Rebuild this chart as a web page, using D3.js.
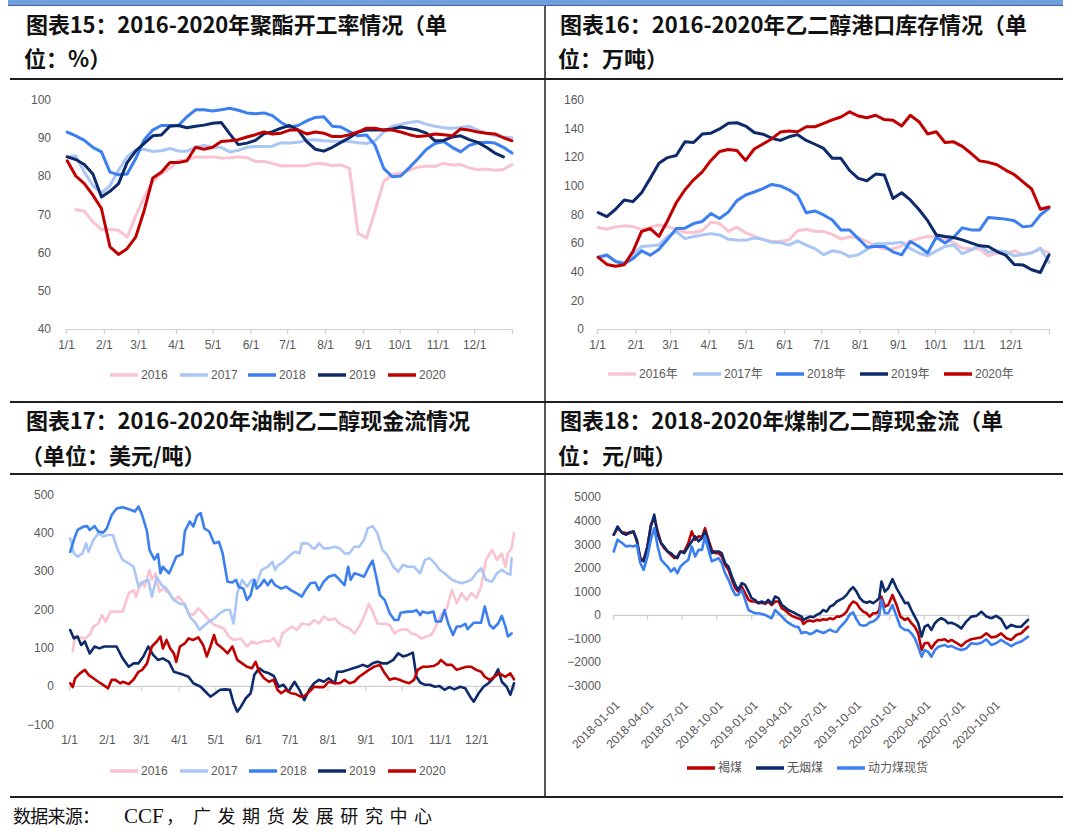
<!DOCTYPE html>
<html><head><meta charset="utf-8">
<script src="https://cdn.jsdelivr.net/npm/d3@7"></script>
<style>body{margin:0;background:#fff}svg{display:block}</style>
</head><body>
<svg id="c" width="1080" height="840"></svg>
<script>
// ---------------- DATA ----------------
const monthLabels = ["1/1","2/1","3/1","4/1","5/1","6/1","7/1","8/1","9/1","10/1","11/1","12/1"];
const monthStartDays = [0,31,59,90,120,151,181,212,243,273,304,334];
const yearNames = ["2016","2017","2018","2019","2020"];
const yearNamesCN = ["2016年","2017年","2018年","2019年","2020年"];
const weekDays = [1,8,15,22,29,36,43,50,57,64,71,78,85,92,99,106,113,120,127,134,141,148,155,162,169,176,183,190,197,204,211,218,225,232,239,246,253,260,267,274,281,288,295,302,309,316,323,330,337,344,351,358,365];

// Chart 15: polyester operating rate (%)
const polyRate2016 = [null,71.2,70.8,68,66,66,65.8,64,69.5,74.5,78.5,80.6,82,84,84.2,85,84.9,85,84.7,84.8,85,84.8,83.8,83.8,83.3,82.6,82.7,82.7,82.7,83.3,83.2,82.7,82.9,82,65,63.8,71,78.5,80.4,80.7,81.5,82.3,82.6,82.5,83.3,82.9,83,82.1,81.6,81.8,81.5,81.7,83];
const polyRate2017 = [85,85.3,81,77.5,75.5,77.5,81.5,85,86.8,87,86.4,86.6,87.2,86.5,86.5,87.5,88,87.5,87.5,86.3,86.7,87.5,87.7,87.7,87.8,88.7,88.6,88.8,89.4,89.5,89.2,89.1,89.1,89,88.7,88.5,89.2,91.5,93,93.5,94,94.3,93.5,93,92.6,92.5,92.7,93,92,91.2,90.6,90.2,90];
const polyRate2018 = [91.5,90.5,89.3,87.5,86.3,81,80.3,80.5,84.5,89.5,92,93.2,93.2,93.2,95.5,97.3,97.3,97,97.3,97.7,97.2,96.5,96.3,96.5,95.8,94,92.8,93.2,94.4,95.3,95.5,93,92.8,91.6,90.5,90.7,88,82,79.8,80,82.2,84.5,87,88.5,89,87.5,86.3,88,88.7,88.8,88.6,87.5,86];
const polyRate2019 = [85,84.3,83,80.5,74.5,76,78,83.5,86.5,88.5,90.5,90.7,93,93.2,92.6,93,93.3,93.8,94,91,88.2,88.6,89.3,91,91.6,92.5,93.2,92,89,87,86.5,87.5,88.8,90,91.5,92,92,92,92.3,92.8,92.4,92,91.2,89.2,89.3,90.2,90.5,89.5,88.8,87.5,86,85];
const polyRate2020 = [84,80,78,75,71.5,61.5,59.5,61,64,71,79.5,81,83.5,83.5,84,87.5,87,87.5,89,89.2,89.5,90.2,90.8,91.5,91,91.2,92,92,91,91.5,91.2,90.3,90.3,90.8,91.5,92.5,92.5,92,92,91.5,90.8,90.3,90.5,91,90.8,90.5,92.3,92,91.5,91.2,91,90,89.2];

// Chart 16: MEG port inventory (10k t)
const portInv2016 = [70.7,69.5,71.2,71.9,71.5,69.3,71,72.5,71.5,69.5,67.5,67.2,68.5,74.5,73.5,68,71,67.2,64.5,62.5,61,61,62,68.5,69.5,68,67.9,66,62.8,64.2,63.8,61,58,55.7,55.8,58,61.3,63.2,64.5,64.4,63,60.3,56.5,56,55.7,51,52.8,52.5,54.5,52,53.3,55.5,53];
const portInv2017 = [50,51,47.5,46,52,57.5,58,58.5,64.5,68,63,64.5,65.6,66.5,65.6,62.5,62,61.8,63.5,62.5,60.5,60.3,58.5,61.5,58.5,56,51.8,54.5,53.5,50.5,51.8,55.5,59.5,59.4,59.8,60.5,56,53,51,54.5,57.5,58.6,52.5,55,58.5,53.5,54.5,54,51,52,53,56.5,46.5];
const portInv2018 = [50,51.7,47,45.5,49,54.5,51.5,55.5,62.5,70,70.3,73.5,75,80.5,77,81.5,89.5,93.4,95.5,97.8,100.8,99.7,97,93,81,82.3,79.5,76,69,69,63,57,57.5,57.5,53.8,51.7,61,57.5,53,64,60,64,70.5,69.1,69,77.8,77.2,76.6,75.5,71.2,71.9,79.5,84.2];
const portInv2019 = [81.2,78.4,83.5,90,88.8,95,105,115.5,119.5,121,130.5,130,135.9,136.5,139.5,143.5,143.8,141.5,137,135.8,133,131.5,134,135.5,131.5,128.8,125.9,119,119,110.5,105,103.4,108,107.4,91,95,90,83.3,75.5,65.6,64.5,63.8,62.1,60,58,57.5,54,51.5,45,44.7,41.3,39.4,51.7];
const portInv2020 = [50,45,43.7,44.8,54,68,70,64.5,75.5,88,97,104,109.5,117.5,123.8,125.2,124.5,117.5,125.5,129,132.5,137.3,138,137.5,141,141,143.3,145.8,147.8,151.4,148.5,147.3,149,146,145.6,141.5,149,144.5,136,137.5,130,130.5,127.3,122.5,117.2,116.2,114.5,110.8,107.6,102.5,97.6,83.5,85];

// Chart 17: oil-based MEG cash flow (USD/t), [day of year, value]
const oilCF2016 = [[3,90],[5,129],[9,127],[13,124],[17,133],[20,155],[24,163],[27,185],[30,168],[34,194],[39,194],[44,194],[49,242],[53,250],[55,233],[59,270],[62,259],[66,303],[68,277],[71,294],[74,246],[77,254],[82,242],[86,224],[90,233],[94,216],[98,190],[102,185],[106,203],[110,190],[115,172],[119,159],[123,155],[127,150],[131,129],[135,120],[141,124],[146,103],[150,116],[154,111],[160,118],[164,116],[168,124],[172,103],[175,137],[179,146],[183,155],[187,146],[191,163],[197,159],[201,172],[205,163],[209,181],[213,172],[218,176],[222,163],[226,155],[230,150],[234,137],[238,155],[242,181],[246,214],[249,194],[253,163],[259,162],[263,159],[267,137],[271,146],[277,148],[281,137],[285,133],[289,124],[293,129],[297,133],[301,155],[305,185],[310,203],[314,250],[318,216],[322,242],[326,224],[330,242],[334,229],[338,259],[342,329],[347,355],[351,329],[355,346],[358,311],[360,346],[363,359],[365,398]];
const oilCF2017 = [[1,385],[4,346],[7,337],[11,346],[14,372],[16,350],[20,381],[24,398],[28,390],[32,394],[36,394],[40,355],[44,329],[49,320],[53,311],[57,259],[61,272],[65,277],[68,233],[72,285],[76,263],[80,254],[86,224],[91,214],[95,214],[99,181],[104,163],[107,146],[110,155],[115,168],[119,176],[124,190],[128,198],[132,198],[135,163],[138,242],[142,277],[146,259],[150,277],[154,268],[158,303],[163,311],[167,324],[169,303],[172,316],[176,324],[180,337],[185,350],[189,346],[191,372],[196,372],[200,359],[202,359],[205,372],[209,359],[213,359],[218,363],[222,359],[226,346],[230,346],[234,363],[238,363],[242,381],[245,411],[249,417],[253,398],[257,355],[261,342],[266,311],[270,298],[274,316],[278,311],[283,311],[288,294],[292,329],[296,333],[300,320],[304,303],[308,294],[314,277],[318,272],[322,268],[326,272],[330,277],[334,294],[338,307],[342,277],[347,272],[351,294],[355,303],[359,294],[362,290],[363,333]];
const oilCF2018 = [[1,350],[4,381],[7,407],[12,416],[15,417],[17,407],[21,417],[24,403],[28,400],[31,411],[35,446],[39,463],[44,466],[51,459],[54,455],[57,468],[60,446],[64,403],[66,355],[70,330],[73,344],[75,294],[77,311],[82,294],[84,307],[88,337],[93,344],[95,403],[99,429],[102,416],[105,444],[108,451],[111,411],[115,403],[119,372],[123,376],[126,346],[130,272],[134,270],[137,277],[139,259],[143,254],[146,224],[149,237],[152,277],[154,254],[157,263],[160,277],[163,263],[166,277],[169,263],[174,254],[178,259],[182,250],[186,243],[191,233],[194,250],[198,268],[202,270],[205,250],[209,272],[213,285],[218,290],[222,277],[226,263],[229,311],[231,277],[234,294],[238,290],[242,285],[246,311],[249,327],[252,285],[255,237],[259,224],[263,190],[267,172],[270,172],[272,191],[278,194],[282,194],[285,198],[288,185],[290,194],[294,190],[299,194],[301,168],[305,168],[308,198],[311,163],[315,133],[318,155],[321,155],[325,162],[327,148],[332,165],[334,165],[338,165],[341,207],[345,159],[348,150],[352,163],[355,183],[358,155],[360,129],[363,137]];
const oilCF2019 = [[1,146],[4,124],[7,129],[10,107],[13,116],[17,85],[21,103],[25,98],[29,103],[34,103],[39,103],[44,72],[49,50],[53,59],[57,59],[61,77],[65,103],[69,81],[73,68],[77,72],[82,63],[86,37],[90,33],[94,29],[98,24],[102,7],[108,-2],[112,-15],[116,-28],[120,-19],[124,-10],[128,-9],[132,-10],[135,-45],[138,-67],[141,-54],[145,-32],[149,-19],[152,29],[156,46],[160,37],[164,33],[168,26],[172,-2],[176,3],[180,-15],[185,11],[189,-10],[193,-37],[197,-10],[201,7],[205,16],[209,11],[213,20],[218,7],[220,37],[224,37],[229,42],[233,46],[237,50],[241,55],[245,50],[249,59],[253,63],[257,59],[261,59],[266,68],[270,85],[274,77],[278,81],[282,87],[285,24],[288,9],[292,3],[296,3],[300,-2],[304,0],[308,-10],[312,-3],[316,-9],[321,-2],[325,-6],[329,-28],[332,-41],[336,-19],[340,-2],[344,7],[348,20],[352,43],[355,11],[359,-2],[362,-23],[365,7]];
const oilCF2020 = [[1,7],[3,-3],[5,20],[9,33],[13,42],[16,29],[20,20],[24,11],[28,3],[32,-6],[35,16],[38,16],[42,7],[44,11],[49,5],[53,17],[57,37],[60,42],[64,59],[68,103],[72,116],[75,129],[77,98],[80,120],[83,98],[86,85],[88,63],[91,103],[95,111],[98,124],[102,120],[106,127],[110,107],[113,77],[116,103],[119,133],[121,111],[126,98],[130,85],[134,103],[138,68],[142,59],[146,50],[150,46],[153,63],[156,37],[160,20],[164,11],[168,16],[171,-10],[174,-19],[178,-10],[182,-19],[186,-21],[190,-28],[193,-26],[197,-15],[201,-2],[205,-3],[209,-3],[213,11],[218,7],[222,7],[226,16],[230,7],[234,11],[238,24],[242,33],[246,42],[250,50],[255,55],[259,33],[263,16],[267,20],[271,16],[275,11],[279,7],[283,16],[286,42],[290,50],[294,50],[299,52],[303,59],[305,68],[310,55],[314,55],[318,42],[322,46],[326,50],[330,50],[334,42],[338,37],[341,24],[345,16],[349,24],[353,33],[358,24],[362,33],[365,17]];

// Chart 18: coal-based MEG cash flow (CNY/t); days since 2018-01-01
const coalTickLabels = ["2018-01-01","2018-04-01","2018-07-01","2018-10-01","2019-01-01","2019-04-01","2019-07-01","2019-10-01","2020-01-01","2020-04-01","2020-07-01","2020-10-01"];
const coalSeriesNames = ["褐煤","无烟煤","动力煤现货"];
const coalDays = [2,12,24,35,44,54,63,72,81,91,100,109,118,127,135,144,153,162,170,178,188,199,208,217,226,235,243,252,261,270,279,287,296,305,314,323,331,340,349,358,366,375,384,393,402,410,419,428,437,446,454,463,472,481,489,498,503,511,520,529,538,547,555,564,573,582,591,599,608,617,626,634,643,652,661,670,678,687,696,703,709,718,727,738,749,759,771,779,788,797,806,815,823,832,841,850,859,867,876,885,894,907,920,933,946,960,973,986,999,1012,1025,1039,1052,1065,1078,1087,1096];
const coalLignite = [3400,3680,3500,3470,3470,3540,3120,2410,2340,2900,3820,4110,3540,3050,2830,2690,2550,2410,2480,2690,2690,3050,3540,3190,3330,3300,3680,3190,2760,2620,2620,2480,2120,1910,1490,1130,990,1200,920,640,570,570,500,520,470,570,420,570,570,280,210,70,-40,-100,-140,-210,-380,-280,-240,-280,-210,-240,-180,-210,-140,-180,-70,-70,0,140,420,570,500,280,140,70,-70,70,70,210,780,350,420,850,420,-70,-210,-140,-350,-500,-780,-1490,-1200,-1180,-1420,-1200,-1060,-1060,-1030,-1130,-1060,-1180,-1320,-1130,-1030,-990,-950,-780,-950,-920,-780,-990,-1060,-850,-780,-640,-500];
const coalAnthracite = [3400,3750,3470,3400,3500,3540,3190,2340,2270,2900,3750,4250,3400,3050,2900,2690,2620,2480,2410,2690,2620,2900,3120,3330,3120,3260,3540,3120,2620,2690,2690,2620,2200,2050,1630,1270,1060,1350,1270,990,710,640,500,570,500,640,470,780,710,420,330,210,140,70,0,-70,-210,-140,-70,-100,0,70,210,140,350,420,570,640,710,850,1060,1180,990,710,570,520,570,500,600,710,1420,990,1130,1520,1130,850,500,520,210,-70,-350,-920,-500,-420,-640,-350,-210,-140,-210,-350,-330,-420,-570,-280,-70,-40,140,-70,-140,-40,-180,-570,-420,-500,-500,-350,-210];
const coalSteam = [2690,3190,3050,2900,2930,2900,2970,2200,1910,2480,3190,3680,2900,2340,2200,2050,1840,1980,1770,2050,2200,2340,2900,2480,2760,2760,3330,2760,2270,2340,2410,2200,1770,1490,1130,850,850,1060,640,210,140,70,70,40,0,-70,-140,210,70,-70,-210,-330,-420,-500,-500,-780,-740,-740,-815,-760,-655,-710,-765,-700,-625,-700,-710,-530,-385,-210,35,105,-175,-420,-460,-425,-315,-280,-175,-30,640,70,70,420,-70,-500,-640,-640,-780,-990,-1350,-1770,-1490,-1560,-1770,-1490,-1350,-1320,-1270,-1350,-1320,-1420,-1490,-1420,-1200,-1230,-1180,-1030,-1270,-1200,-1060,-1200,-1320,-1200,-1130,-1030,-920];

// ---------------- STYLE ----------------
const yearColors = ["#f9c3cf","#a9c6f4","#3b7ff0","#0d2b6b","#c00000"];
const coalColors = ["#c00000","#0d2b6b","#3b7ff0"];
const TXT = "'Liberation Sans','Noto Sans CJK SC',sans-serif";
const CJK = "'Noto Sans CJK SC',sans-serif";
const GRAY = "#595959";
const AXC = "#d0d0d0";

const svg = d3.select("#c");

// frame
svg.append("rect").attr("x",8).attr("y",0).attr("width",1055).attr("height",4.5).attr("fill","#6f9fdc");
svg.append("line").attr("x1",8).attr("x2",1063).attr("y1",5.2).attr("y2",5.2).attr("stroke","#3c66ad").attr("stroke-width",1.5);
[79,402,474,797].forEach(yy=>{
  svg.append("line").attr("x1",10).attr("x2",1063).attr("y1",yy).attr("y2",yy).attr("stroke","#1e1e1e").attr("stroke-width",2);
});
svg.append("line").attr("x1",545).attr("x2",545).attr("y1",6).attr("y2",797).attr("stroke","#1e1e1e").attr("stroke-width",1.5);

// titles
function title(x, y, str, len){
  const t = svg.append("text").attr("x",x).attr("y",y).attr("font-family",CJK).attr("font-weight",700)
    .attr("font-size",22).attr("fill","#111").text(str);
  if(len) t.attr("textLength",len).attr("lengthAdjust","spacing");
}
title(26,33,"图表15：2016-2020年聚酯开工率情况（单",421);
title(24,67,"位：%）");
title(560,33,"图表16：2016-2020年乙二醇港口库存情况（单",467);
title(558,67,"位：万吨）");
title(26,429,"图表17：2016-2020年油制乙二醇现金流情况",444);
title(21,464,"（单位：美元/吨）");
title(560,429,"图表18：2018-2020年煤制乙二醇现金流（单",443);
title(558,464,"位：元/吨）");

// source note
{
  const src = svg.append("g").attr("fill","#111");
  src.append("text").attr("x",13).attr("y",823).attr("font-family",CJK).attr("font-size",18)
    .attr("textLength",87).attr("lengthAdjust","spacing").text("数据来源：");
  src.append("text").attr("x",124).attr("y",823).attr("font-family","'Liberation Serif',serif").attr("font-size",21)
    .text("CCF");
  src.append("text").attr("x",166).attr("y",823).attr("font-family",CJK).attr("font-size",18).text("，");
  src.append("text").attr("x",193).attr("y",823).attr("font-family",CJK).attr("font-size",18)
    .attr("textLength",239).attr("lengthAdjust","spacing").text("广发期货发展研究中心");
}

// helpers
function yAxis(scale, ticks, xRight){
  const g = svg.append("g").attr("transform",`translate(${xRight},0)`)
    .call(d3.axisLeft(scale).tickValues(ticks).tickSize(0).tickPadding(0).tickFormat(d3.format("d")));
  g.select(".domain").remove();
  g.selectAll("text").attr("font-family",TXT).attr("font-size",12).attr("fill",GRAY);
}
function monthAxis(scale, yPos, pad){
  const vals = monthStartDays.concat([365]);
  const g = svg.append("g").attr("transform",`translate(0,${yPos})`)
    .call(d3.axisBottom(scale).tickValues(vals).tickSize(5).tickPadding(pad)
      .tickFormat(d => { const i = monthStartDays.indexOf(d); return i>=0 ? monthLabels[i] : ""; }));
  g.select(".domain").attr("stroke",AXC).attr("stroke-width",1.2);
  g.selectAll(".tick line").attr("stroke",AXC).attr("stroke-width",1.2);
  g.selectAll("text").attr("font-family",TXT).attr("font-size",12).attr("fill",GRAY);
}
function legend(items, colors, xs, yPos){
  items.forEach((name,i)=>{
    svg.append("line").attr("x1",xs[i]).attr("x2",xs[i]+28).attr("y1",yPos).attr("y2",yPos)
      .attr("stroke",colors[i]).attr("stroke-width",3.5);
    svg.append("text").attr("x",xs[i]+31).attr("y",yPos).attr("dy","0.36em")
      .attr("font-family",TXT).attr("font-size",12).attr("fill",GRAY).text(name);
  });
}
function drawLine(data, xs, ys, color, w, xf, yf){
  const line = d3.line().defined(d => yf(d) != null).x(d => xs(xf(d))).y(d => ys(yf(d)));
  svg.append("path").datum(data).attr("d",line).attr("fill","none").attr("stroke",color)
    .attr("stroke-width",w).attr("stroke-linejoin","round").attr("stroke-linecap","round");
}

// ---------- Chart 15 ----------
{
  const x = d3.scaleLinear().domain([0,365]).range([66,512]);
  const y = d3.scaleLinear().domain([40,100]).range([329,99.5]);
  yAxis(y, d3.range(40,101,10), 51);
  monthAxis(x, 329, 6);
  const series = [polyRate2016,polyRate2017,polyRate2018,polyRate2019,polyRate2020];
  series.forEach((s,k)=>{
    const pts = s.map((v,i)=>[weekDays[i],v]);
    drawLine(pts, x, y, yearColors[k], 3, d=>d[0], d=>d[1]);
  });
  legend(yearNames, yearColors, [110,180,248,318,388], 375);
}

// ---------- Chart 16 ----------
{
  const x = d3.scaleLinear().domain([0,365]).range([597,1049]);
  const y = d3.scaleLinear().domain([0,160]).range([329,99.5]);
  yAxis(y, d3.range(0,161,20), 584);
  monthAxis(x, 329, 6);
  const series = [portInv2016,portInv2017,portInv2018,portInv2019,portInv2020];
  series.forEach((s,k)=>{
    const pts = s.map((v,i)=>[weekDays[i],v]);
    drawLine(pts, x, y, yearColors[k], 3, d=>d[0], d=>d[1]);
  });
  legend(yearNamesCN, yearColors, [608,693,776,860,944], 374);
}

// ---------- Chart 17 ----------
{
  const x = d3.scaleLinear().domain([0,365]).range([69,514]);
  const y = d3.scaleLinear().domain([-100,500]).range([724.3,494.3]);
  yAxis(y, d3.range(-100,501,100), 54);
  monthAxis(x, y(0), 45);
  const series = [oilCF2016,oilCF2017,oilCF2018,oilCF2019,oilCF2020];
  series.forEach((s,k)=>{
    drawLine(s, x, y, yearColors[k], 2.6, d=>d[0], d=>d[1]);
  });
  legend(yearNames, yearColors, [110,180,249,318,388], 771);
}

// ---------- Chart 18 ----------
{
  const t0 = new Date(2018,0,1);
  const dayToDate = d => d3.timeDay.offset(t0, d);
  const x = d3.scaleTime().domain([t0, new Date(2021,0,1)]).range([613,1028]);
  const y = d3.scaleLinear().domain([-3000,5000]).range([685.7,497]);
  yAxis(y, d3.range(-3000,5001,1000), 601);
  const tickDates = coalTickLabels.map(s => d3.timeParse("%Y-%m-%d")(s));
  const g = svg.append("g").attr("transform",`translate(0,${y(0)})`)
    .call(d3.axisBottom(x).tickValues(tickDates).tickSize(5).tickFormat(d3.timeFormat("%Y-%m-%d")));
  g.select(".domain").attr("stroke",AXC).attr("stroke-width",1.2);
  g.selectAll(".tick line").attr("stroke",AXC).attr("stroke-width",1.2);
  g.selectAll("text").attr("font-family",TXT).attr("font-size",12).attr("fill",GRAY)
    .attr("y",null).attr("dy",null).attr("text-anchor","end")
    .attr("transform","translate(7,91) rotate(-45)");
  const seriesList = [coalLignite, coalAnthracite, coalSteam];
  seriesList.forEach((s,k)=>{
    const pts = s.map((v,i)=>[dayToDate(coalDays[i]), v]);
    drawLine(pts, x, y, coalColors[k], 2.6, d=>d[0], d=>d[1]);
  });
  legend(coalSeriesNames, coalColors, [687,756,837], 768);
}
</script>
</body></html>
